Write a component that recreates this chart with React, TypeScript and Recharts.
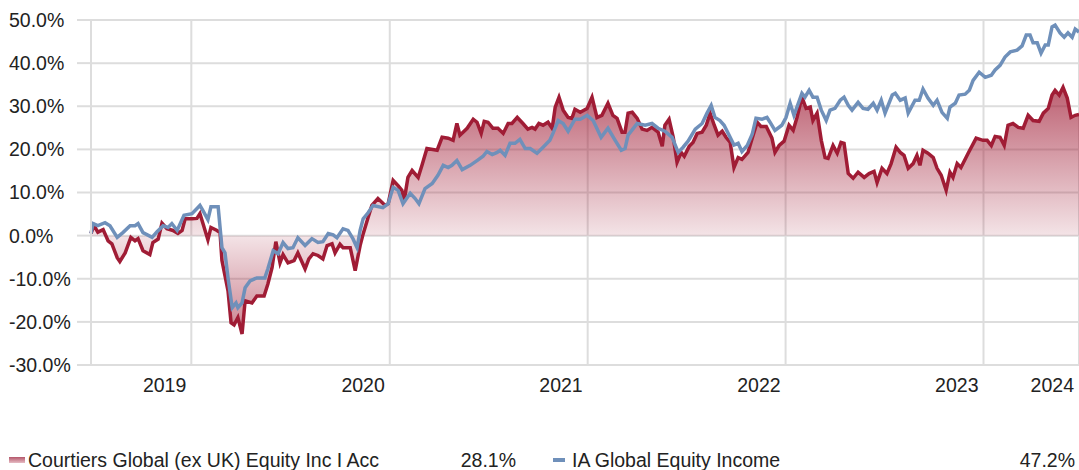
import React from "react";
import { ComposedChart, Area, Line, XAxis, YAxis, CartesianGrid } from "recharts";

// weeks since 30 Jun 2019, cumulative return %
const FUND: [number, number][] = [
  [0, 0.5], [0.8, 2.3], [1.8, 0.8], [3.2, 1.4], [4.5, -1.2], [5.5, -1.9], [6.9, -5.1], [7.6, -6.0],
  [9.0, -4.0], [10.5, -0.4], [11.6, -1.2], [12.4, -0.7], [13.7, -3.5], [15.5, -4.4], [16.3, -1.6],
  [17.7, -0.8], [18.7, 2.9], [20.0, 1.6], [21.6, 1.2], [22.9, 0.5], [24.0, 1.2], [24.8, 3.9],
  [26.6, 3.9], [27.9, 4.0], [28.7, 5.1], [29.5, 2.8], [30.8, -1.0], [31.6, 1.9], [33.2, 1.2],
  [34.0, 0.7], [34.5, -5.8], [35.3, -9.3], [36.1, -12.8], [36.9, -20.2], [37.7, -20.7], [38.7, -19.0],
  [39.8, -22.8], [40.6, -15.1], [42.4, -15.6], [43.7, -14.0], [45.6, -14.0], [46.6, -11.2],
  [47.7, -7.4], [48.7, -1.4], [49.8, -6.3], [50.6, -4.4], [51.9, -6.3], [53.5, -5.8], [54.5, -4.0],
  [56.4, -7.7], [57.4, -5.4], [58.5, -4.2], [59.8, -4.6], [61.1, -5.4], [62.2, -2.3], [63.5, -1.9],
  [64.3, -4.0], [65.6, -2.0], [66.4, -2.8], [68.3, -2.8], [69.6, -8.1], [70.9, -2.3], [71.7, 0.4],
  [73.0, 4.2], [74.0, 7.0], [75.6, 8.6], [77.5, 7.0], [78.3, 7.4], [79.6, 12.8], [80.9, 11.6],
  [81.9, 10.5], [82.5, 8.1], [83.5, 13.5], [84.6, 15.1], [86.2, 13.5], [87.2, 16.3], [88.5, 20.2],
  [91.2, 19.8], [92.5, 22.8], [94.1, 22.6], [95.4, 22.1], [96.4, 26.0], [97.2, 23.3], [99.1, 24.9],
  [100.7, 27.0], [101.7, 26.3], [102.8, 23.7], [103.6, 26.5], [104.6, 26.3], [105.9, 24.9],
  [107.2, 24.9], [108.6, 23.7], [109.9, 26.0], [110.9, 26.0], [112.3, 27.4], [113.8, 26.0],
  [115.1, 24.7], [116.2, 25.1], [117.0, 24.7], [118.0, 26.0], [119.1, 25.6], [120.4, 26.3],
  [121.5, 24.9], [122.3, 29.8], [123.3, 32.1], [124.4, 29.1], [125.7, 27.4], [126.7, 27.2],
  [127.5, 29.3], [128.9, 28.6], [130.7, 29.5], [132.0, 32.1], [133.3, 27.4], [134.6, 27.9],
  [136.2, 30.7], [137.5, 27.9], [138.6, 27.2], [139.9, 24.0], [140.7, 24.0], [141.5, 28.4],
  [142.6, 28.6], [143.9, 27.2], [145.2, 24.7], [146.5, 24.4], [147.8, 25.1], [149.4, 24.0],
  [150.5, 20.7], [151.2, 25.6], [152.3, 27.0], [153.4, 22.8], [154.4, 17.0], [155.5, 19.3],
  [156.3, 18.4], [157.6, 20.7], [158.6, 21.6], [159.7, 23.7], [161.0, 24.0], [162.1, 25.6],
  [163.1, 28.4], [164.2, 25.6], [165.2, 23.3], [166.3, 24.2], [167.3, 22.8], [168.4, 21.6],
  [169.4, 15.8], [170.5, 18.1], [171.5, 17.7], [173.1, 19.3], [174.2, 22.6], [175.5, 26.3],
  [176.5, 25.3], [177.9, 25.3], [179.4, 22.6], [180.2, 19.3], [181.3, 20.9], [182.6, 21.9],
  [183.9, 25.6], [185.0, 24.4], [186.0, 27.4], [187.3, 32.1], [188.4, 29.5], [189.5, 29.8],
  [190.2, 26.7], [191.3, 28.4], [192.4, 22.1], [193.4, 18.1], [194.2, 17.9], [195.5, 20.9],
  [196.6, 19.1], [197.6, 21.6], [198.4, 21.4], [199.5, 14.4], [200.8, 13.3], [202.1, 14.7],
  [203.7, 13.5], [205.0, 14.4], [206.3, 14.9], [207.1, 12.3], [208.4, 15.6], [209.7, 14.4],
  [210.8, 16.7], [212.1, 20.5], [213.2, 19.3], [214.2, 18.6], [215.3, 15.6], [216.6, 16.7],
  [217.6, 18.6], [218.4, 16.3], [219.2, 19.8], [220.5, 19.1], [221.9, 18.1], [222.9, 15.6],
  [224.0, 14.0], [225.3, 10.5], [226.3, 14.7], [227.1, 13.5], [228.2, 16.7], [229.2, 15.8],
  [231.1, 19.1], [233.2, 22.6], [235.0, 22.1], [236.1, 22.1], [237.2, 20.9], [238.2, 23.0],
  [239.5, 22.8], [240.6, 20.9], [241.6, 25.6], [242.9, 26.0], [244.3, 25.1], [245.6, 24.9],
  [246.9, 27.9], [248.2, 26.7], [249.8, 26.5], [250.9, 28.4], [252.2, 29.5], [253.2, 32.6],
  [254.0, 33.7], [255.1, 32.6], [256.1, 34.4], [257.2, 31.9], [258.2, 27.4], [259.3, 27.9],
  [260.3, 28.1],
];

const SECTOR: [number, number][] = [
  [0, 0.5], [0.5, 2.8], [1.8, 2.3], [3.7, 3.0], [5.0, 2.3], [6.9, -0.4], [8.4, 0.7], [10.3, 2.3],
  [11.6, 2.3], [12.4, 2.8], [13.7, 0.7], [16.1, -0.4], [17.4, 0.9], [19.0, 2.3], [20.3, 1.9],
  [21.3, 2.8], [22.7, 1.2], [24.5, 4.7], [26.6, 5.1], [28.7, 7.0], [29.5, 5.8], [30.8, 3.7],
  [31.6, 6.7], [33.5, 6.7], [34.5, -2.8], [35.3, -4.0], [36.1, -9.8], [37.2, -16.7], [38.2, -15.6],
  [38.7, -16.7], [39.8, -15.6], [40.6, -12.1], [41.9, -10.5], [43.7, -9.8], [45.8, -9.8],
  [46.6, -7.7], [48.0, -3.5], [49.3, -4.2], [50.6, -1.6], [51.9, -3.0], [53.2, -2.8], [54.5, -0.5],
  [56.4, -2.3], [58.2, -0.7], [59.8, -1.6], [61.1, -1.4], [62.5, 0.5], [63.8, 0.2], [64.8, -0.5],
  [66.4, 1.6], [67.7, 1.2], [69.0, -0.7], [70.1, -2.8], [70.9, 1.2], [71.7, 3.9], [73.0, 5.3],
  [74.3, 7.0], [76.9, 6.5], [78.3, 7.4], [79.6, 11.2], [80.9, 10.5], [82.2, 7.4], [84.1, 9.8],
  [85.4, 8.6], [86.4, 7.4], [88.0, 10.9], [89.9, 12.1], [91.4, 14.0], [92.8, 16.3], [94.1, 15.8],
  [95.1, 16.3], [96.4, 17.4], [97.8, 15.3], [99.9, 16.3], [101.7, 17.4], [103.3, 18.4],
  [104.3, 19.5], [105.7, 18.8], [107.0, 19.3], [107.8, 19.8], [109.1, 18.6], [110.4, 21.4],
  [111.7, 21.4], [113.0, 22.3], [114.4, 20.2], [115.7, 20.2], [117.5, 19.1], [119.1, 20.5],
  [120.9, 22.1], [121.7, 23.7], [123.1, 26.7], [124.4, 26.0], [125.7, 24.2], [127.5, 27.0],
  [128.9, 27.0], [130.7, 27.9], [132.3, 26.7], [134.4, 22.8], [136.2, 24.9], [138.1, 22.1],
  [139.7, 19.8], [140.7, 20.2], [141.5, 23.3], [143.9, 26.0], [146.0, 25.6], [147.8, 26.0],
  [149.4, 24.9], [151.2, 24.2], [153.1, 22.8], [154.7, 19.3], [156.0, 20.5], [157.3, 21.9],
  [159.2, 24.7], [161.0, 26.0], [162.3, 28.4], [163.4, 30.2], [164.4, 27.4], [165.7, 26.7],
  [166.8, 25.6], [168.1, 23.3], [169.4, 21.0], [170.5, 21.4], [171.5, 19.5], [172.9, 20.9],
  [174.2, 23.5], [175.2, 27.2], [176.8, 27.0], [178.1, 27.4], [178.9, 26.3], [180.2, 24.4],
  [182.0, 25.6], [183.1, 27.4], [184.2, 30.7], [185.2, 27.9], [187.3, 33.0], [188.1, 32.1],
  [189.2, 33.7], [190.2, 32.1], [191.3, 32.1], [192.4, 29.1], [193.7, 26.7], [194.7, 29.1],
  [196.0, 29.5], [197.4, 31.4], [198.4, 32.1], [199.5, 30.2], [200.5, 29.1], [202.1, 30.9],
  [203.4, 29.5], [204.7, 29.3], [206.1, 30.7], [207.1, 29.1], [208.2, 31.4], [209.2, 28.4],
  [211.1, 32.6], [211.9, 33.0], [213.2, 31.4], [214.5, 31.9], [215.3, 28.4], [217.1, 31.4],
  [218.2, 31.4], [219.2, 34.0], [220.5, 31.9], [221.9, 30.2], [222.9, 31.4], [224.2, 28.6],
  [225.6, 27.2], [226.3, 29.8], [227.7, 30.7], [228.7, 32.6], [230.3, 32.8], [231.4, 33.7],
  [232.4, 36.0], [234.0, 37.9], [235.6, 36.7], [237.2, 37.2], [238.2, 38.4], [239.5, 39.5],
  [240.8, 41.4], [242.2, 42.6], [244.0, 43.0], [245.3, 44.0], [246.4, 46.5], [247.4, 46.5],
  [248.2, 44.7], [249.3, 44.7], [250.3, 42.3], [251.4, 44.2], [252.2, 44.2], [253.2, 48.4],
  [254.0, 48.8], [255.3, 47.0], [256.4, 46.0], [257.4, 47.0], [258.5, 46.0], [259.3, 47.9],
  [260.3, 47.2],
];

const FUND_NAME = "Courtiers Global (ex UK) Equity Inc I Acc";
const SECTOR_NAME = "IA Global Equity Income";

const START = Date.UTC(2019, 5, 30);
const WEEK = 7 * 24 * 3600 * 1000;
const END_WEEK = 260.3;
const YEARS = [2019, 2020, 2021, 2022, 2023];
const LAST_LABEL = "2024";
const Y_TICKS = [-30, -20, -10, 0, 10, 20, 30, 40, 50];

const RED = "#a01c35";
const BLUE = "#6f90ba";
const GRID = "#dddddd";
const FONT = "'Liberation Sans', Arial, sans-serif";
const FS = 19.5;

const xTicks = [...YEARS.map((y) => (Date.UTC(y + 1, 0, 1) - START) / WEEK), END_WEEK];
const xLabels = [...YEARS.map(String), LAST_LABEL];

const fundData = FUND.map(([w, v]) => ({ w, fund: v }));
const sectorData = SECTOR.map(([w, v]) => ({ w, sector: v }));

const fundMax = Math.max(...FUND.map((d) => d[1]));
const fundMin = Math.min(...FUND.map((d) => d[1]));
const zeroOffset = fundMax / (fundMax - fundMin);

const pct = (v: number) => `${v.toFixed(1)}%`;

const YearTick = (props: any) => {
  const { x, y, index } = props;
  return (
    <text x={x - 5} y={y} dy="0.71em" textAnchor="end" fill="#222" fontSize={FS} fontFamily={FONT}>
      {xLabels[index]}
    </text>
  );
};

// y labels sit flush left in the original
const PctTick = (props: any) => {
  const { y, payload } = props;
  return (
    <text x={1} y={y} dy="0.355em" textAnchor="start" fill="#222" fontSize={FS} fontFamily={FONT}>
      {pct(payload.value)}
    </text>
  );
};

export default function App() {
  const fundLast = FUND[FUND.length - 1][1];
  const sectorLast = SECTOR[SECTOR.length - 1][1];
  const legendText = { fontSize: FS, fontFamily: FONT, color: "#222", lineHeight: "20px", whiteSpace: "nowrap" as const };
  const row = { position: "absolute" as const, top: 442, height: 20, display: "flex", justifyContent: "space-between", alignItems: "center" };

  return (
    <div style={{ position: "relative", width: 1071, height: 462 }}>
      <style>{`html, body { overflow: hidden; } body { margin: 8px 0 0 8px; }`}</style>
      <ComposedChart width={1071} height={400} margin={{ top: 12, right: 0, bottom: 0, left: 0 }}>
        <defs>
          <linearGradient id="fundFill" x1="0" y1="0" x2="0" y2="1">
            <stop offset="0" stopColor={RED} stopOpacity={0.7} />
            <stop offset={zeroOffset} stopColor={RED} stopOpacity={0.12} />
            <stop offset="1" stopColor={RED} stopOpacity={0.55} />
          </linearGradient>
        </defs>
        <CartesianGrid stroke={GRID} strokeWidth={2} />
        <XAxis
          type="number"
          dataKey="w"
          domain={[0, END_WEEK]}
          ticks={xTicks}
          axisLine={false}
          tickLine={false}
          tickSize={6}
          tickMargin={7}
          height={43}
          tick={<YearTick />}
          interval={0}
        />
        <YAxis
          domain={[-30, 50]}
          ticks={Y_TICKS}
          width={83}
          axisLine={{ stroke: GRID, strokeWidth: 2 }}
          tickLine={{ stroke: GRID, strokeWidth: 2 }}
          tickSize={14}
          tickMargin={12}
          tick={<PctTick />}
          interval={0}
        />
        <Line
          data={sectorData}
          dataKey="sector"
          type="linear"
          stroke={BLUE}
          strokeWidth={3.5}
          dot={false}
          activeDot={false}
          isAnimationActive={false}
        />
        <Area
          data={fundData}
          dataKey="fund"
          type="linear"
          baseValue={0}
          stroke={RED}
          strokeWidth={3.5}
          fill="url(#fundFill)"
          fillOpacity={1}
          dot={false}
          activeDot={false}
          isAnimationActive={false}
        />
      </ComposedChart>
      <div style={{ ...row, left: 0, width: 508 }}>
        <div style={{ display: "flex", alignItems: "center" }}>
          <span style={{ display: "inline-block", width: 16, height: 6, marginLeft: 1, marginRight: 3, background: "linear-gradient(#b4566a, #e6bcc4)" }} />
          <span style={legendText}>{FUND_NAME}</span>
        </div>
        <span style={legendText}>{pct(fundLast)}</span>
      </div>
      <div style={{ ...row, left: 545, width: 522 }}>
        <div style={{ display: "flex", alignItems: "center" }}>
          <span style={{ display: "inline-block", width: 12, height: 4, marginRight: 7, background: BLUE }} />
          <span style={legendText}>{SECTOR_NAME}</span>
        </div>
        <span style={legendText}>{pct(sectorLast)}</span>
      </div>
    </div>
  );
}
